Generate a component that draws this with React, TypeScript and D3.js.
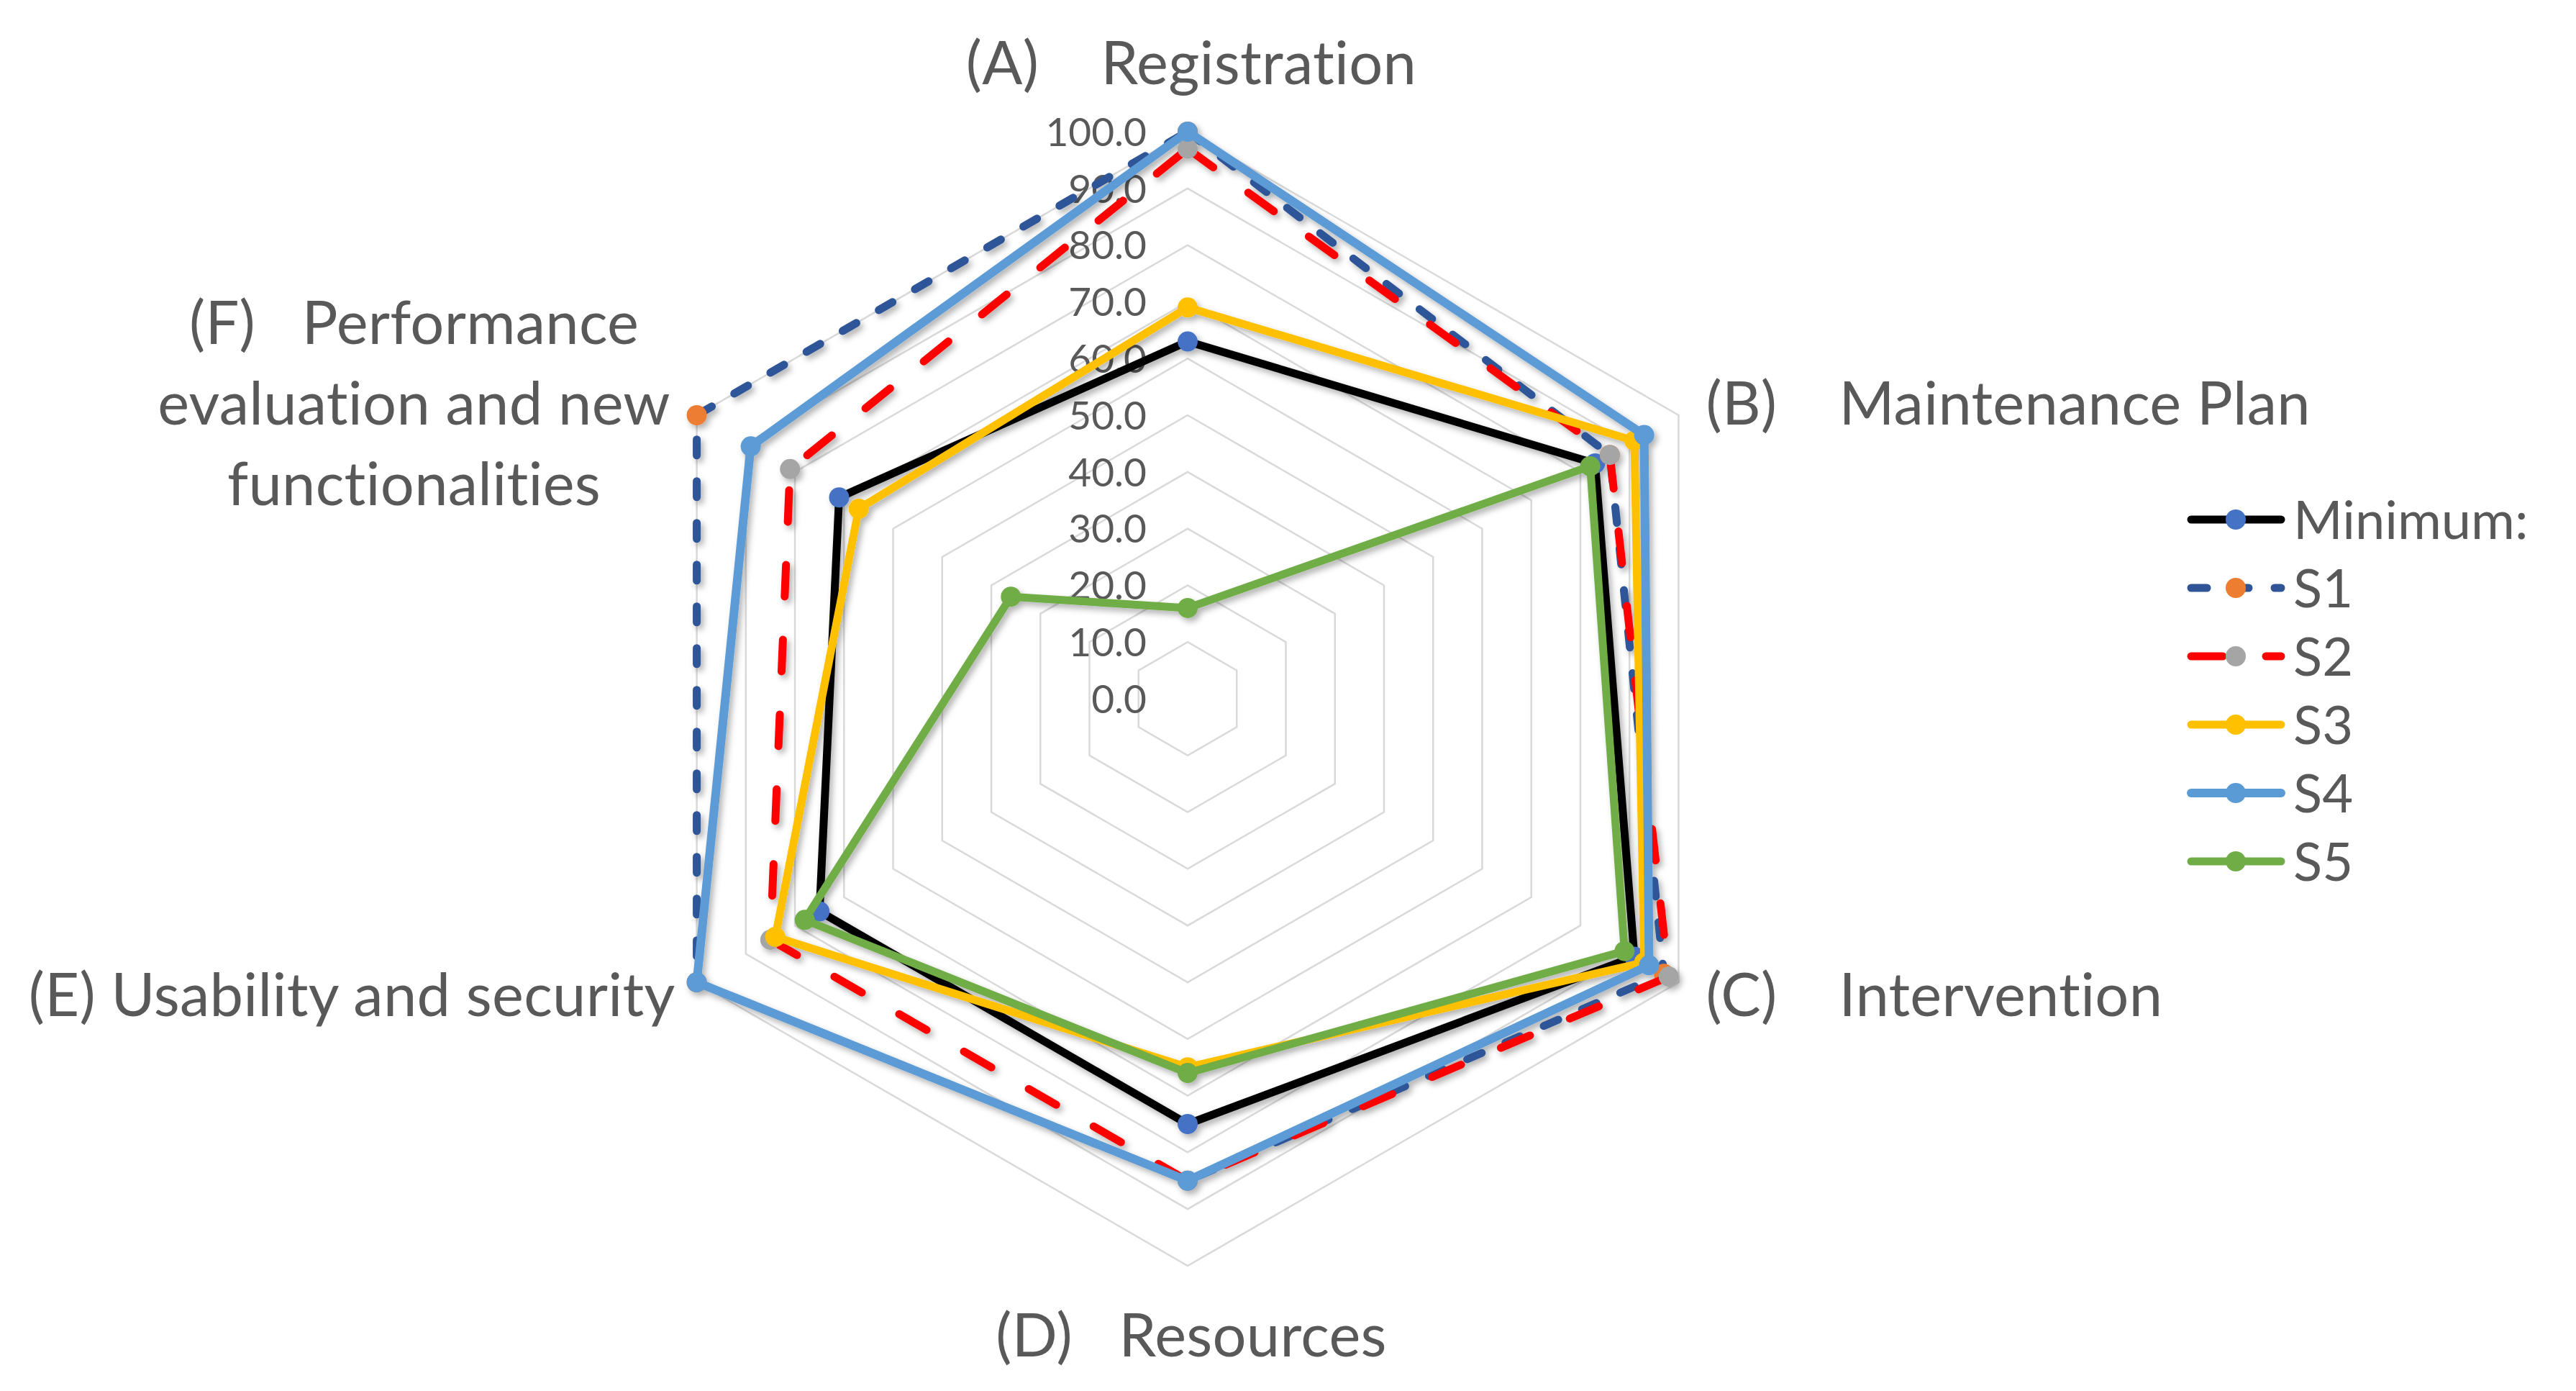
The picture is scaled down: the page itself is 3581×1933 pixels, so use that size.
import * as React from 'react';
import * as d3 from 'd3';

// axis labels (F wraps over three lines)
const categories = [
  ['(A)    Registration'],
  ['(B)    Maintenance Plan'],
  ['(C)    Intervention'],
  ['(D)   Resources'],
  ['(E) Usability and security'],
  ['(F)   Performance', 'evaluation and new', 'functionalities']
];

const tickValues = [0, 10, 20, 30, 40, 50, 60, 70, 80, 90, 100];

const seriesNames = ['Minimum:', 'S1', 'S2', 'S3', 'S4', 'S5'];
const minimumValues = [63, 83, 91, 75, 75, 71];
const s1Values = [100, 86, 97, 85, 100, 100];
const s2Values = [97, 86, 98, 85, 85, 81];
const s3Values = [69, 91, 93, 65, 84, 67];
const s4Values = [100, 93, 94, 85, 100, 89];
const s5Values = [16, 82, 89, 66, 78, 36];

const seriesValues = [minimumValues, s1Values, s2Values, s3Values, s4Values, s5Values];

const seriesStyles = [
  {line: '#000000', marker: '#4472C4', dash: null, width: 11},
  {line: '#2F5597', marker: '#ED7D31', dash: '22,36', width: 11},
  {line: '#FF0000', marker: '#A5A5A5', dash: '44,60', width: 11},
  {line: '#FFC000', marker: '#FFC000', dash: null, width: 11},
  {line: '#5B9BD5', marker: '#5B9BD5', dash: null, width: 12},
  {line: '#70AD47', marker: '#70AD47', dash: null, width: 11}
];

// where each axis label sits relative to its outer vertex
const labelLayout = [
  {anchor: 'middle', dx: 5, dy: -96},
  {anchor: 'start', dx: 38, dy: -17},
  {anchor: 'start', dx: 38, dy: 17},
  {anchor: 'middle', dx: 5, dy: 96},
  {anchor: 'end', dx: -30, dy: 17},
  {anchor: 'middle', dx: -393, dy: -17}
];

const W = 3581;
const H = 1933;
const cx = 1651;
const cy = 971;
const R = 788;
const textColor = '#595959';
const font = "Lato, 'Open Sans', sans-serif";

export default function App() {
  const ref = React.useRef<SVGSVGElement>(null);

  React.useEffect(() => {
    const svg = d3.select(ref.current);
    svg.selectAll('*').remove();

    const r = d3.scaleLinear().domain([0, 100]).range([0, R]);
    const angle = d3
      .scaleLinear()
      .domain([0, categories.length])
      .range([0, 2 * Math.PI]);
    const radial = d3
      .lineRadial<number>()
      .angle((_, i) => angle(i))
      .radius(d => r(d))
      .curve(d3.curveLinearClosed);

    const filter = svg
      .append('defs')
      .append('filter')
      .attr('id', 'shadow')
      .attr('x', '-20%')
      .attr('y', '-20%')
      .attr('width', '140%')
      .attr('height', '140%');
    filter
      .append('feDropShadow')
      .attr('dx', 4)
      .attr('dy', 5)
      .attr('stdDeviation', 4)
      .attr('flood-color', '#000')
      .attr('flood-opacity', 0.3);

    const g = svg.append('g').attr('transform', `translate(${cx}, ${cy})`);

    // grid rings
    g.append('g')
      .selectAll('path')
      .data(tickValues.filter(v => v > 0))
      .join('path')
      .attr('d', v => radial(categories.map(() => v)))
      .attr('fill', 'none')
      .attr('stroke', '#d9d9d9')
      .attr('stroke-width', 2.5);

    // value labels
    g.append('g')
      .selectAll('text')
      .data(tickValues)
      .join('text')
      .attr('x', -57)
      .attr('y', v => -r(v))
      .attr('dy', '0.36em')
      .attr('text-anchor', 'end')
      .attr('font-family', font)
      .attr('font-size', 55)
      .attr('fill', textColor)
      .text(v => v.toFixed(1));

    // axis labels
    categories.forEach((lines, i) => {
      const [vx, vy] = d3.pointRadial(angle(i), R);
      const lay = labelLayout[i];
      const t = g
        .append('text')
        .attr('text-anchor', lay.anchor)
        .attr('font-family', font)
        .attr('font-size', 83)
        .attr('fill', textColor)
        .attr('letter-spacing', 0.3)
        .style('white-space', 'pre')
        .style('font-feature-settings', '"liga" 0, "clig" 0, "dlig" 0')
        .style('font-variant-ligatures', 'none');
      const lh = 112;
      const top = -((lines.length - 1) * lh) / 2;
      lines.forEach((line, j) => {
        t.append('tspan')
          .attr('x', vx + lay.dx)
          .attr('y', vy + lay.dy + top + j * lh)
          .attr('dy', '0.36em')
          .text(line);
      });
    });

    // series
    const sg = g.append('g').attr('filter', 'url(#shadow)');
    seriesValues.forEach((vals, k) => {
      const st = seriesStyles[k];
      sg.append('path')
        .attr('d', radial(vals))
        .attr('fill', 'none')
        .attr('stroke', st.line)
        .attr('stroke-width', st.width)
        .attr('stroke-linejoin', 'round')
        .attr('stroke-linecap', st.dash ? 'round' : 'butt')
        .attr('stroke-dasharray', st.dash);
      sg.append('g')
        .selectAll('circle')
        .data(vals)
        .join('circle')
        .attr('cx', (d, i) => d3.pointRadial(angle(i), r(d))[0])
        .attr('cy', (d, i) => d3.pointRadial(angle(i), r(d))[1])
        .attr('r', 14)
        .attr('fill', st.marker);
    });

    // legend
    const lg = svg.append('g').attr('transform', 'translate(3042, 722)');
    const rowH = 95;
    seriesNames.forEach((name, k) => {
      const st = seriesStyles[k];
      const row = lg.append('g').attr('transform', `translate(0, ${k * rowH})`);
      row.append('line')
        .attr('x1', 4)
        .attr('x2', 129)
        .attr('stroke', st.line)
        .attr('stroke-width', st.width)
        .attr('stroke-linecap', 'round')
        .attr('stroke-dasharray', st.dash);
      row.append('circle').attr('cx', 66).attr('r', 14).attr('fill', st.marker);
      row.append('text')
        .attr('x', 146)
        .attr('dy', '0.36em')
        .attr('font-family', font)
        .attr('font-size', 74)
        .attr('fill', textColor)
        .text(name);
    });
  }, []);

  return (
    <svg
      ref={ref}
      width={W}
      height={H}
      style={{position: 'absolute', left: 0, top: 0, background: '#fff'}}
    />
  );
}
